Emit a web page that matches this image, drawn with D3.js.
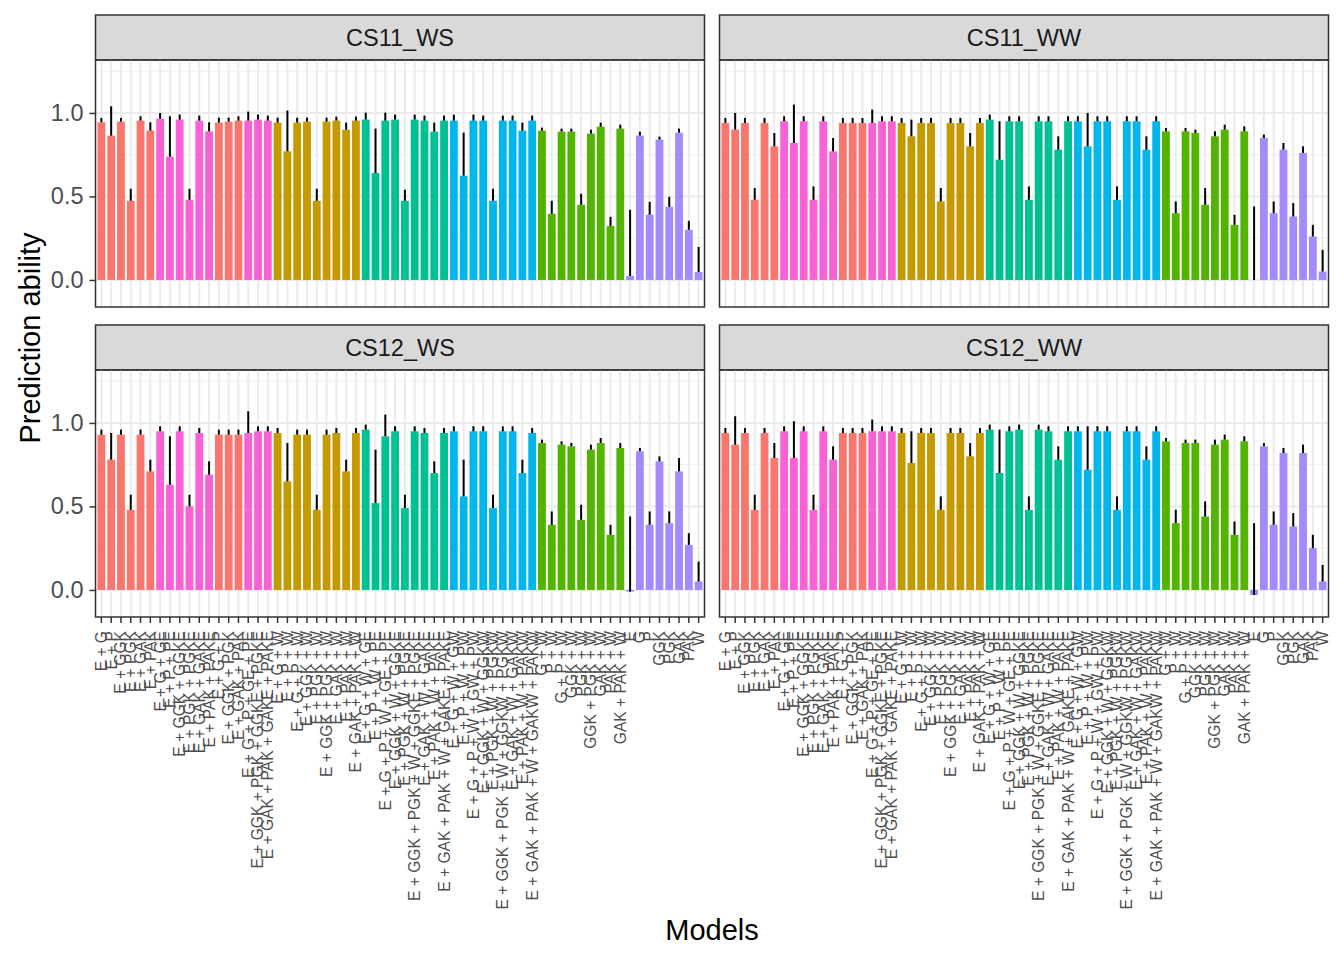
<!DOCTYPE html>
<html>
<head>
<meta charset="utf-8">
<script src="https://cdn.jsdelivr.net/npm/d3@7"></script>
<style>
  body { margin: 0; background: #fff; }
  svg { font-family: "Liberation Sans", Arial, sans-serif; }
</style>
</head>
<body>
<svg id="chart" width="1344" height="960"></svg>
<script>
const models = [
  "E + G", "E + P", "E + GGK", "E + PGK", "E + GAK", "E + PAK",
  "E + G + GE", "E + P + PE", "E + GGK + GGKE", "E + PGK + PGKE", "E + GAK + GAKE", "E + PAK + PAKE",
  "E + G + P", "E + GGK + PGK", "E + GAK + PAK",
  "E + G + P + GE + PE", "E + GGK + PGK + GGKE + PGKE", "E + GAK + PAK + GAKE + PAKE",
  "E + G + W", "E + P + W", "E + G + P + W", "E + GGK + W", "E + PGK + W", "E + GGK + PGK + W",
  "E + GAK + W", "E + PAK + W", "E + GAK + PAK + W",
  "E + G + W + GE", "E + P + W + PE", "E + G + P + W + GE + PE", "E + GGK + W + GGKE", "E + PGK + W + PGKE",
  "E + GGK + PGK + W + GGKE + PGKE", "E + GAK + W + GAKE", "E + PAK + W + PAKE", "E + GAK + PAK + W + GAKE + PAKE",
  "E + G + W + GW", "E + P + W + PW", "E + G + P + W + GW + PW", "E + GGK + W + GGKW", "E + PGK + W + PGKW",
  "E + GGK + PGK + W + GGKW + PGKW", "E + GAK + W + GAKW", "E + PAK + W + PAKW", "E + GAK + PAK + W + GAKW + PAKW",
  "G + W", "P + W", "G + P + W", "GGK + W", "PGK + W", "GGK + PGK + W", "GAK + W", "PAK + W", "GAK + PAK + W",
  "E", "G", "P", "GGK", "PGK", "GAK", "PAK", "W"
];

// colour group of each model (ggplot hue order)
const modelGroup = [
  1, 1, 1, 1, 1, 1,
  7, 7, 7, 7, 7, 7,
  1, 1, 1,
  7, 7, 7,
  2, 2, 2, 2, 2, 2, 2, 2, 2,
  4, 4, 4, 4, 4, 4, 4, 4, 4,
  5, 5, 5, 5, 5, 5, 5, 5, 5,
  3, 3, 3, 3, 3, 3, 3, 3, 3,
  6, 6, 6, 6, 6, 6, 6, 6
];
const groupColors = ["#F8766D", "#C49A00", "#53B400", "#00C094", "#00B6EB", "#A58AFF", "#FB61D7"];

const panelNames = ["CS11_WS", "CS11_WW", "CS12_WS", "CS12_WW"];

const cs11wsMean = [0.944, 0.864, 0.948, 0.474, 0.954, 0.894, 0.966, 0.738, 0.96, 0.48, 0.954, 0.89,
  0.942, 0.948, 0.954, 0.954, 0.96, 0.954, 0.942, 0.77, 0.942, 0.948, 0.474, 0.948, 0.954, 0.9, 0.954,
  0.96, 0.64, 0.954, 0.96, 0.474, 0.96, 0.954, 0.888, 0.954, 0.954, 0.624, 0.954, 0.954, 0.474,
  0.954, 0.954, 0.894, 0.954, 0.894, 0.396, 0.888, 0.888, 0.45, 0.876, 0.918, 0.324, 0.906,
  0.024, 0.864, 0.39, 0.84, 0.438, 0.882, 0.30, 0.048];
const cs11wsSd = [0.026, 0.176, 0.022, 0.072, 0.026, 0.05, 0.034, 0.242, 0.03, 0.066, 0.03, 0.054,
  0.03, 0.024, 0.026, 0.054, 0.03, 0.03, 0.03, 0.244, 0.03, 0.024, 0.072, 0.024, 0.024, 0.042, 0.024,
  0.042, 0.266, 0.048, 0.03, 0.066, 0.03, 0.03, 0.054, 0.03, 0.036, 0.258, 0.036, 0.03, 0.072,
  0.03, 0.03, 0.048, 0.03, 0.018, 0.078, 0.018, 0.018, 0.066, 0.024, 0.024, 0.054, 0.024,
  0.396, 0.024, 0.078, 0.018, 0.06, 0.024, 0.054, 0.15];

const cs11wwMean = [0.94, 0.90, 0.94, 0.48, 0.94, 0.80, 0.95, 0.82, 0.95, 0.48, 0.95, 0.77,
  0.94, 0.94, 0.94, 0.94, 0.95, 0.95, 0.94, 0.86, 0.94, 0.94, 0.47, 0.94, 0.94, 0.80, 0.94,
  0.96, 0.72, 0.95, 0.95, 0.48, 0.95, 0.95, 0.78, 0.95, 0.95, 0.80, 0.95, 0.95, 0.48,
  0.95, 0.95, 0.78, 0.95, 0.89, 0.40, 0.89, 0.88, 0.45, 0.86, 0.90, 0.33, 0.89,
  0.00, 0.85, 0.40, 0.78, 0.38, 0.76, 0.26, 0.05];
const cs11wwSd = [0.03, 0.10, 0.03, 0.07, 0.03, 0.08, 0.03, 0.23, 0.03, 0.08, 0.03, 0.08,
  0.03, 0.03, 0.03, 0.08, 0.03, 0.03, 0.03, 0.10, 0.03, 0.03, 0.08, 0.03, 0.03, 0.08, 0.03,
  0.03, 0.23, 0.03, 0.03, 0.08, 0.03, 0.03, 0.08, 0.03, 0.03, 0.20, 0.03, 0.03, 0.08,
  0.03, 0.03, 0.08, 0.03, 0.02, 0.07, 0.02, 0.02, 0.10, 0.03, 0.03, 0.06, 0.03,
  0.44, 0.02, 0.07, 0.04, 0.08, 0.04, 0.07, 0.13];

const cs12wsMean = [0.93, 0.78, 0.93, 0.48, 0.93, 0.71, 0.95, 0.63, 0.95, 0.50, 0.94, 0.69,
  0.93, 0.93, 0.93, 0.94, 0.95, 0.95, 0.94, 0.65, 0.93, 0.93, 0.48, 0.93, 0.94, 0.71, 0.94,
  0.96, 0.52, 0.92, 0.95, 0.49, 0.95, 0.94, 0.70, 0.94, 0.95, 0.56, 0.95, 0.95, 0.49,
  0.95, 0.95, 0.70, 0.94, 0.88, 0.39, 0.87, 0.86, 0.42, 0.84, 0.88, 0.33, 0.85,
  -0.01, 0.83, 0.39, 0.77, 0.40, 0.71, 0.27, 0.05];
const cs12wsSd = [0.03, 0.16, 0.03, 0.09, 0.03, 0.07, 0.03, 0.29, 0.03, 0.07, 0.03, 0.08,
  0.03, 0.03, 0.03, 0.13, 0.03, 0.03, 0.03, 0.23, 0.03, 0.03, 0.09, 0.03, 0.03, 0.07, 0.03,
  0.03, 0.32, 0.13, 0.03, 0.08, 0.03, 0.03, 0.07, 0.03, 0.03, 0.22, 0.03, 0.03, 0.08,
  0.03, 0.03, 0.08, 0.03, 0.02, 0.08, 0.02, 0.02, 0.09, 0.03, 0.03, 0.06, 0.03,
  0.45, 0.02, 0.08, 0.03, 0.07, 0.08, 0.07, 0.12];

const cs12wwMean = [0.94, 0.87, 0.94, 0.48, 0.94, 0.79, 0.95, 0.79, 0.95, 0.48, 0.95, 0.78,
  0.94, 0.94, 0.94, 0.95, 0.95, 0.95, 0.94, 0.76, 0.94, 0.94, 0.48, 0.94, 0.94, 0.80, 0.94,
  0.96, 0.70, 0.95, 0.96, 0.48, 0.96, 0.95, 0.78, 0.95, 0.95, 0.72, 0.95, 0.95, 0.48,
  0.95, 0.95, 0.78, 0.95, 0.89, 0.40, 0.88, 0.88, 0.44, 0.87, 0.90, 0.33, 0.89,
  -0.03, 0.86, 0.39, 0.82, 0.38, 0.82, 0.25, 0.05];
const cs12wwSd = [0.03, 0.17, 0.03, 0.09, 0.03, 0.09, 0.03, 0.22, 0.03, 0.09, 0.03, 0.08,
  0.03, 0.03, 0.03, 0.07, 0.03, 0.03, 0.03, 0.19, 0.03, 0.03, 0.08, 0.03, 0.03, 0.08, 0.03,
  0.03, 0.26, 0.03, 0.03, 0.08, 0.03, 0.03, 0.08, 0.03, 0.03, 0.26, 0.03, 0.03, 0.08,
  0.03, 0.03, 0.08, 0.03, 0.02, 0.08, 0.02, 0.02, 0.09, 0.03, 0.03, 0.08, 0.03,
  0.43, 0.02, 0.08, 0.03, 0.08, 0.05, 0.08, 0.10];

const panelMeans = [cs11wsMean, cs11wwMean, cs12wsMean, cs12wwMean];
const panelSds = [cs11wsSd, cs11wwSd, cs12wsSd, cs12wwSd];

const yTicks = [0, 0.5, 1.0];
const yMinor = [0.25, 0.75, 1.25];

// layout
const colX = [95.5, 719.5];
const panelW = 609;
const stripTop = [15, 325];
const stripH = 45;
const panelH = 247;

const svg = d3.select("#chart");

const x = d3.scaleBand()
  .domain(models)
  .range([0, panelW])
  .paddingInner(0.2)
  .paddingOuter(0.2);

const y = d3.scaleLinear().domain([-0.162, 1.317]).range([panelH, 0]);

function drawPanel(i) {
  const col = i % 2;
  const row = Math.floor(i / 2);
  const px = colX[col];
  const py = stripTop[row] + stripH;
  const means = panelMeans[i];
  const sds = panelSds[i];

  // strip
  svg.append("rect")
    .attr("x", px).attr("y", stripTop[row])
    .attr("width", panelW).attr("height", stripH)
    .attr("fill", "#D9D9D9").attr("stroke", "#333333").attr("stroke-width", 1.5);
  svg.append("text")
    .attr("x", px + panelW / 2).attr("y", stripTop[row] + stripH / 2)
    .attr("dy", "0.36em")
    .attr("text-anchor", "middle")
    .attr("font-size", 23.5)
    .attr("fill", "#1A1A1A")
    .text(panelNames[i]);

  const g = svg.append("g").attr("transform", `translate(${px},${py})`);

  // grid
  g.selectAll("line.minor").data(yMinor).join("line")
    .attr("class", "minor")
    .attr("x1", 0).attr("x2", panelW)
    .attr("y1", (d) => y(d)).attr("y2", (d) => y(d))
    .attr("stroke", "#F1F1F1").attr("stroke-width", 1.2);
  g.selectAll("line.vgrid").data(models).join("line")
    .attr("class", "vgrid")
    .attr("x1", (d) => x(d) + x.bandwidth() / 2).attr("x2", (d) => x(d) + x.bandwidth() / 2)
    .attr("y1", 0).attr("y2", panelH)
    .attr("stroke", "#EBEBEB").attr("stroke-width", 2);
  g.selectAll("line.major").data(yTicks).join("line")
    .attr("class", "major")
    .attr("x1", 0).attr("x2", panelW)
    .attr("y1", (d) => y(d)).attr("y2", (d) => y(d))
    .attr("stroke", "#EBEBEB").attr("stroke-width", 2);

  // bars
  g.selectAll("rect.bar").data(models).join("rect")
    .attr("class", "bar")
    .attr("x", (d) => x(d))
    .attr("width", x.bandwidth())
    .attr("y", (d, j) => y(Math.max(0, means[j])))
    .attr("height", (d, j) => Math.abs(y(means[j]) - y(0)))
    .attr("fill", (d, j) => groupColors[modelGroup[j] - 1]);

  // error bars
  g.selectAll("line.err").data(models).join("line")
    .attr("class", "err")
    .attr("x1", (d) => x(d) + x.bandwidth() / 2).attr("x2", (d) => x(d) + x.bandwidth() / 2)
    .attr("y1", (d, j) => y(means[j]))
    .attr("y2", (d, j) => y(means[j] + sds[j]))
    .attr("stroke", "#000").attr("stroke-width", 2);

  // border
  g.append("rect")
    .attr("width", panelW).attr("height", panelH)
    .attr("fill", "none").attr("stroke", "#333333").attr("stroke-width", 1.5);

  if (col === 0) {
    const ax = g.append("g").call(
      d3.axisLeft(y).tickValues(yTicks).tickFormat(d3.format(".1f")).tickSize(6)
    );
    ax.select(".domain").remove();
    ax.selectAll("line").attr("stroke", "#333333").attr("stroke-width", 1.5);
    ax.selectAll("text")
      .attr("x", -12)
      .attr("font-size", 23.5)
      .attr("fill", "#4D4D4D");
  }

  if (row === 1) {
    const ax = g.append("g")
      .attr("transform", `translate(0,${panelH})`)
      .call(d3.axisBottom(x).tickSize(6).tickSizeOuter(0));
    ax.select(".domain").remove();
    ax.selectAll("line").attr("stroke", "#333333").attr("stroke-width", 1.5);
    ax.selectAll("text")
      .attr("transform", "rotate(-90)")
      .attr("x", -14)
      .attr("y", 0)
      .attr("dy", "0.35em")
      .attr("text-anchor", "end")
      .attr("font-size", 15.6)
      .attr("fill", "#4D4D4D");
  }
}

panelNames.forEach((name, i) => drawPanel(i));

svg.append("text")
  .attr("x", 712).attr("y", 930)
  .attr("dy", "0.36em")
  .attr("text-anchor", "middle")
  .attr("font-size", 29)
  .attr("fill", "#000")
  .text("Models");

svg.append("text")
  .attr("transform", "translate(30,338) rotate(-90)")
  .attr("dy", "0.36em")
  .attr("text-anchor", "middle")
  .attr("font-size", 29)
  .attr("fill", "#000")
  .text("Prediction ability");
</script>
</body>
</html>
